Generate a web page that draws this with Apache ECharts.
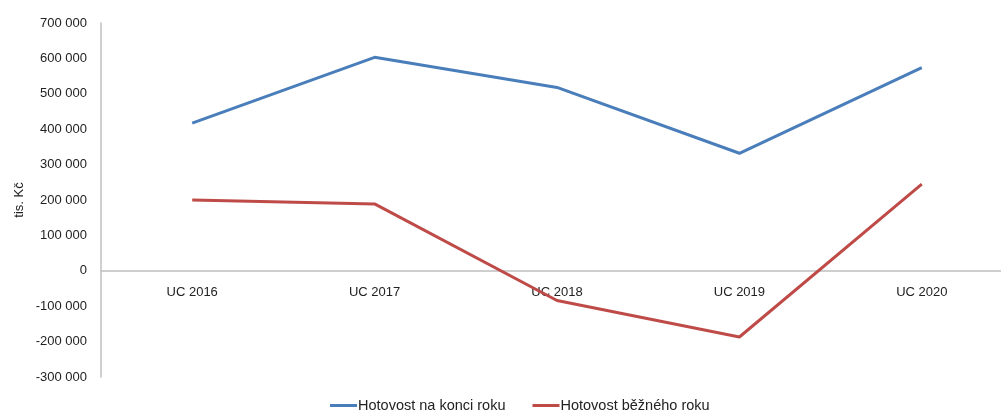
<!DOCTYPE html>
<html>
<head>
<meta charset="utf-8">
<script src="https://cdn.jsdelivr.net/npm/echarts@6/dist/echarts.min.js"></script>
<style>
  html, body { margin: 0; padding: 0; background: #fff; }
  #chart { width: 1001px; height: 412px; }
</style>
</head>
<body>
<div id="chart"></div>
<script>
  var categories = ['UC 2016', 'UC 2017', 'UC 2018', 'UC 2019', 'UC 2020'];
  var seriesNames = ['Hotovost na konci roku', 'Hotovost běžného roku'];
  var cashEnd = [417000, 603000, 518000, 332000, 574000];
  var cashYear = [200000, 189000, -84000, -187000, 245000];

  var font = 'Liberation Sans';
  var textColor = '#222';
  var axisColor = '#bfbfbf';

  var chart = echarts.init(document.getElementById('chart'));

  function fmt(v) {
    // 700000 -> "700 000"
    var s = Math.abs(v).toString().replace(/\B(?=(\d{3})+(?!\d))/g, ' ');
    return (v < 0 ? '-' : '') + s;
  }

  chart.setOption({
    animation: false,
    textStyle: { fontFamily: font },
    grid: {
      left: 101,
      width: 912,
      top: 23,
      height: 354,
      containLabel: false,
      outerBoundsMode: 'none'
    },
    legend: {
      top: 398,
      left: 330,
      icon: 'rect',
      itemWidth: 27,
      itemHeight: 3,
      itemGap: 27,
      padding: 0,
      textStyle: { color: textColor, fontSize: 14.5, fontFamily: font, padding: [0, 0, 0, -4] },
      data: seriesNames
    },
    xAxis: {
      type: 'category',
      data: categories,
      boundaryGap: true,
      // axis sits on the zero line, labels go with it
      offset: -106,
      axisLine: { onZero: false, lineStyle: { color: axisColor, width: 1.5 } },
      axisTick: { show: false },
      axisLabel: { color: textColor, fontSize: 13, margin: 15 },
      splitLine: { show: false }
    },
    yAxis: {
      type: 'value',
      min: -300000,
      max: 700000,
      interval: 100000,
      name: 'tis. Kč',
      nameLocation: 'middle',
      nameGap: 75,
      nameMoveOverlap: false,
      nameTextStyle: { color: textColor, fontSize: 13 },
      axisLine: { show: true, lineStyle: { color: axisColor, width: 1.5 } },
      axisTick: { show: false },
      axisLabel: { color: textColor, fontSize: 13, margin: 14, formatter: fmt },
      splitLine: { show: false }
    },
    series: [{
      name: seriesNames[0],
      type: 'line',
      symbol: 'none',
      lineStyle: { width: 3, color: '#4a7ebb' },
      itemStyle: { color: '#4a7ebb' },
      data: cashEnd
    }, {
      name: seriesNames[1],
      type: 'line',
      symbol: 'none',
      lineStyle: { width: 3, color: '#be4b48' },
      itemStyle: { color: '#be4b48' },
      data: cashYear
    }]
  });
</script>
</body>
</html>
